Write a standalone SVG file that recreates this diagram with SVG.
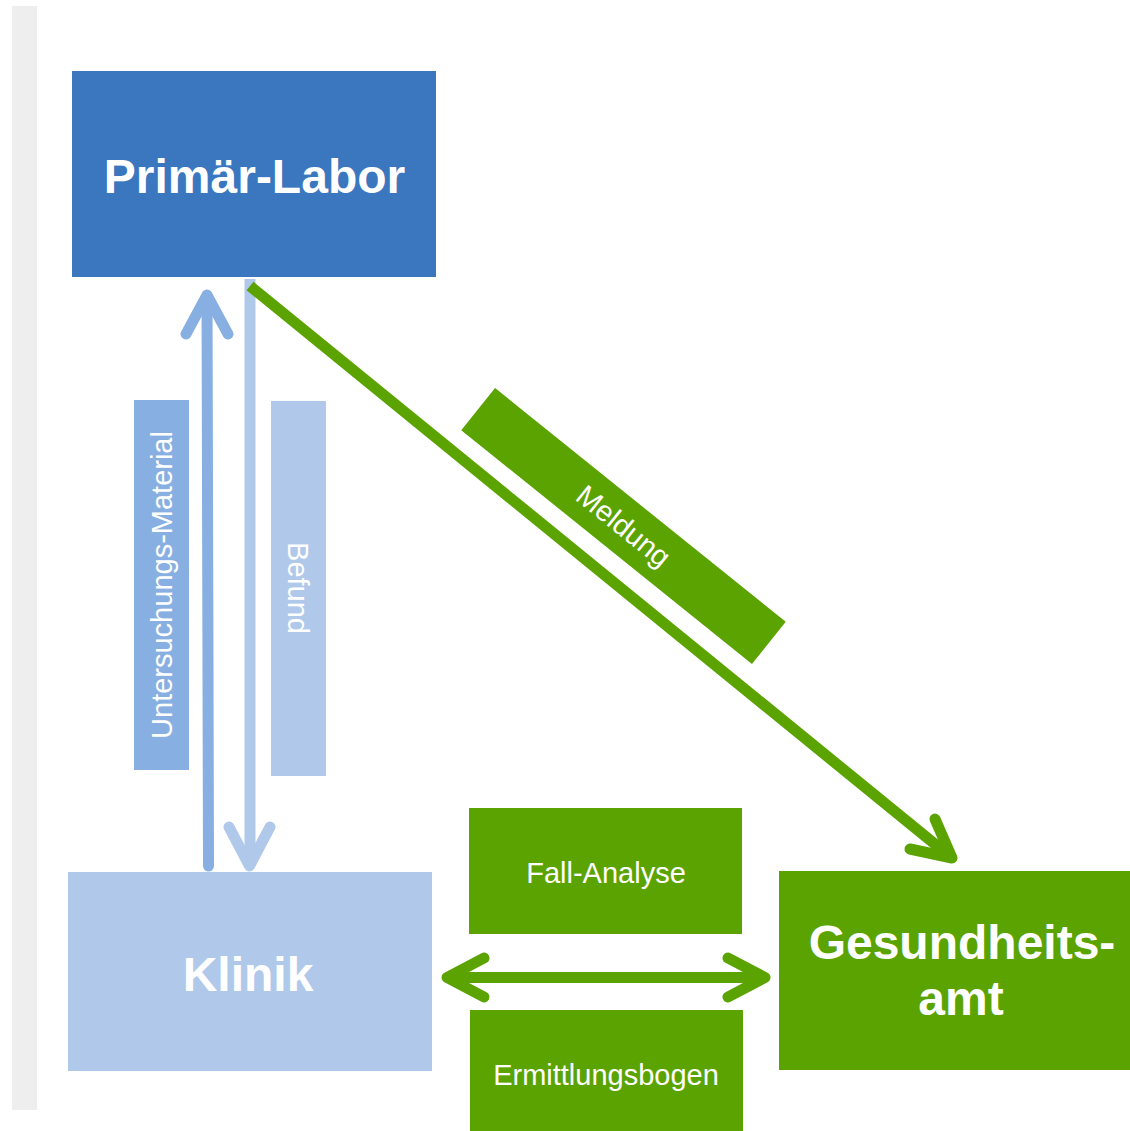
<svg xmlns="http://www.w3.org/2000/svg" width="1130" height="1131" viewBox="0 0 1130 1131">
  <style>
    .big { font-family: "Liberation Sans", Arial, sans-serif; font-weight: bold; font-size: 48px; fill: #ffffff; text-anchor: middle; }
    .lbl { font-family: "Liberation Sans", Arial, sans-serif; font-size: 29px; fill: #ffffff; text-anchor: middle; }
    .ln { fill: none; stroke-width: 11; stroke-linecap: round; stroke-linejoin: round; }
    .green { fill: #5ba300; }
  </style>
  <rect x="0" y="0" width="1130" height="1131" fill="#ffffff"/>
  <rect x="12" y="6" width="25" height="1104" fill="#eeeeee"/>

  <g id="primaer-labor">
    <rect x="72" y="71" width="364" height="206" fill="#3a77bf"/>
    <text class="big" x="254.5" y="193">Primär-Labor</text>
  </g>
  <g id="klinik">
    <rect x="68" y="872" width="364" height="199" fill="#b0c9eb"/>
    <text class="big" x="248" y="991">Klinik</text>
  </g>
  <g id="gesundheitsamt">
    <rect x="779" y="871" width="351" height="199" class="green"/>
    <text class="big" x="962" y="959">Gesundheits-</text>
    <text class="big" x="961" y="1015">amt</text>
  </g>
  <g id="fall-analyse">
    <rect x="469" y="808" width="273" height="126" class="green"/>
    <text class="lbl" x="606" y="883">Fall-Analyse</text>
  </g>
  <g id="ermittlungsbogen">
    <rect x="470" y="1010" width="273" height="121" class="green"/>
    <text class="lbl" x="606" y="1085">Ermittlungsbogen</text>
  </g>
  <g id="label-untersuchungs-material">
    <rect x="134" y="400" width="55" height="370" fill="#87afe2"/>
    <text class="lbl" transform="translate(172 585) rotate(-90)" x="0" y="0">Untersuchungs-Material</text>
  </g>
  <g id="label-befund">
    <rect x="271" y="401" width="55" height="375" fill="#b0c9eb"/>
    <text class="lbl" transform="translate(288 588) rotate(90)" x="0" y="0">Befund</text>
  </g>
  <g id="label-meldung">
    <g transform="translate(623.5 526) rotate(38.8)">
      <rect x="-186.5" y="-27" width="373" height="54" class="green"/>
      <text class="lbl" x="0" y="10">Meldung</text>
    </g>
  </g>

  <g id="connectors">
    <g stroke="#87afe2" class="ln">
      <line x1="208.5" y1="866" x2="207" y2="296"/>
      <polyline points="186,334 207,295 228,334" fill="none"/>
    </g>
    <line x1="250" y1="279" x2="250" y2="866" stroke="#b0c9eb" stroke-width="11"/>
    <polyline points="229,827 249.5,866 270,827" stroke="#b0c9eb" class="ln"/>
    <line x1="250" y1="286" x2="952" y2="858" stroke="#5ba300" stroke-width="11"/>
    <polyline points="935,819 952,858 910,849" stroke="#5ba300" class="ln"/>
    <line x1="447" y1="977.5" x2="765" y2="977.5" stroke="#5ba300" stroke-width="11"/>
    <polyline points="484,958 447,977.5 484,997" stroke="#5ba300" class="ln"/>
    <polyline points="728,958 765,977.5 728,997" stroke="#5ba300" class="ln"/>
  </g>
</svg>
